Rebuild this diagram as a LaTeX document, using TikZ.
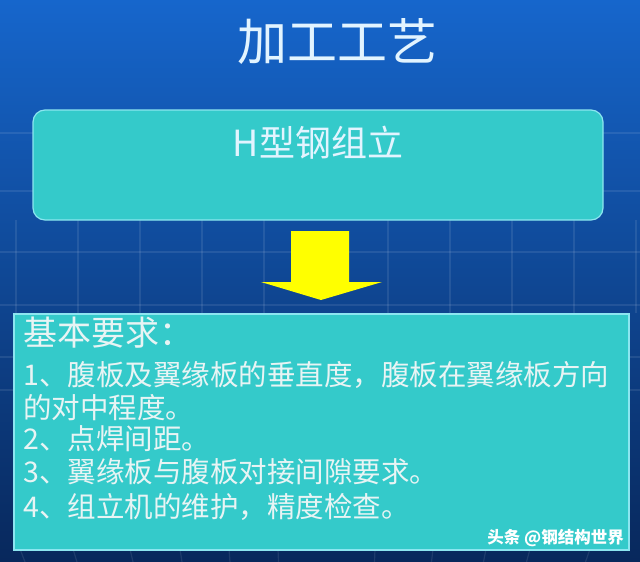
\documentclass[tikz,border=0pt]{standalone}
\usepackage{fontspec}
\setmainfont{Noto Sans CJK SC}
\definecolor{bgtop}{RGB}{22,102,204}
\definecolor{bgmid}{RGB}{12,72,160}
\definecolor{bgbot}{RGB}{8,40,92}
\definecolor{teal}{RGB}{52,202,202}
\definecolor{tealedge}{RGB}{140,230,240}
\definecolor{txtlight}{RGB}{232,244,244}
\definecolor{titlecol}{RGB}{226,244,255}
\definecolor{arrowyel}{RGB}{255,255,0}
\tikzset{
  gridline/.style={white, opacity=0.09, line width=1.2pt},
  titletext/.style={inner sep=0pt, text=titlecol, font=\fontsize{50}{60}\selectfont},
  boxtext/.style={inner sep=0pt, text=titlecol, font=\fontsize{36}{42}\selectfont},
  headtext/.style={inner sep=0pt, anchor=west, text=txtlight, font=\fontsize{34}{40}\selectfont},
  bodytext/.style={inner sep=0pt, anchor=west, text=txtlight, font=\fontsize{28.5}{33}\selectfont},
  wmtext/.style={inner sep=0pt, anchor=east, text=white, font=\bfseries\fontsize{16.5}{20}\selectfont},
  topbox/.style={draw=tealedge, line width=1.2pt, fill=teal, rounded corners=12pt,
    minimum width=570pt, minimum height=110pt, inner sep=0pt},
  reqbox/.style={draw=tealedge, line width=1.5pt, fill=teal,
    minimum width=615pt, minimum height=236pt, inner sep=0pt, anchor=north west},
}
\begin{document}
\begin{tikzpicture}[x=1pt,y=-1pt]
\useasboundingbox (0,0) rectangle (640,562);
% background
\shade[top color=bgtop, middle color=bgmid, bottom color=bgbot] (0,0) rectangle (640,562);
% faint grid
\foreach \yy in {133,191,252,305,357,390} \draw[gridline] (0,\yy) -- (640,\yy);
\foreach \xx in {16,78,140,202,264,388,450,512,574,636} \draw[gridline] (\xx,220) -- (\xx,313);
\foreach \xx/\dx in {20/5,73/4,130/3,180/2,229/1,278/0.5,375/-0.5,433/-1.5,486/-2.5,530/-3.5,590/-4.5} \draw[gridline] (\xx,549) -- (\xx+\dx,562);
% title
\node[titletext] (title) at (337,42) {加工工艺};
% top box
\node[topbox] (top) at (318,165) {};
\node[boxtext] (toptext) at (318,143) {H型钢组立};
% arrow
\fill[arrowyel] (291,231) -- (349,231) -- (349,282) -- (382,282) -- (321,300) -- (261,282) -- (291,282) -- cycle;
% requirement box
\node[reqbox] (req) at (13,313) {};
\node[headtext] (head) at (23,333) {基本要求：};
\node[bodytext] (l1) at (23,375) {1、腹板及翼缘板的垂直度，腹板在翼缘板方向};
\node[bodytext] (l2) at (23,408) {的对中程度。};
\node[bodytext] (l3) at (23,439) {2、点焊间距。};
\node[bodytext] (l4) at (23,472) {3、翼缘板与腹板对接间隙要求。};
\node[bodytext] (l5) at (23,507) {4、组立机的维护，精度检查。};
% watermark
\node[wmtext] (wm) at (624,538) {头条 @钢结构世界};
\end{tikzpicture}
\end{document}
